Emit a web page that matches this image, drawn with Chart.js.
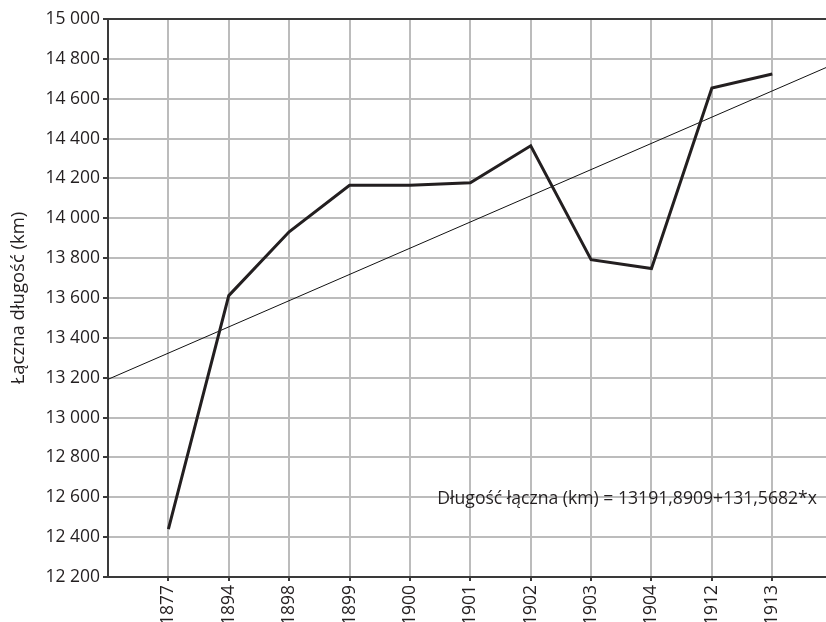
<!DOCTYPE html>
<html>
<head>
<meta charset="utf-8">
<script src="https://cdn.jsdelivr.net/npm/chart.js@4/dist/chart.umd.min.js"></script>
<style>
  html, body { margin: 0; padding: 0; background: #fff; }
  #wrap { width: 826px; height: 622px; }
</style>
</head>
<body>
<div id="wrap"><canvas id="chart"></canvas></div>
<script>
/* ---------------- data ---------------- */

const YEARS   = ['1877', '1894', '1898', '1899', '1900', '1901', '1902', '1903', '1904', '1912', '1913'];
const LENGTHS = [12440, 13612, 13932, 14166, 14166, 14178, 14364, 13792, 13748, 14654, 14724];
const Y_TICKS = [12200, 12400, 12600, 12800, 13000, 13200, 13400, 13600, 13800, 14000, 14200, 14400, 14600, 14800, 15000];

// regression from the label: 13191,8909 + 131,5682*x
const INTERCEPT = 13191.8909;
const SLOPE     = 131.5682;
const X_MAX     = 11.89;

const TEXT_COLOR = '#231f20';
const FONT = "'Open Sans', sans-serif";

/* ---------------- helpers ---------------- */

const fmt = v => {
  const s = String(v);
  return s.length > 3 ? s.slice(0, s.length - 3) + '\u00a0' + s.slice(-3) : s;
};

const seriesPoints = YEARS.map((_, i) => ({ x: i + 1, y: LENGTHS[i] }));
const trendPoints  = [0, X_MAX].map(x => ({ x, y: INTERCEPT + SLOPE * x }));

// top frame + equation label
const extras = {
  id: 'extras',
  afterDraw(chart) {
    const { ctx, chartArea: a } = chart;
    ctx.save();
    ctx.strokeStyle = '#3a3a3a';
    ctx.lineWidth = 2;
    ctx.beginPath();
    ctx.moveTo(a.left, a.top);
    ctx.lineTo(a.right, a.top);
    ctx.stroke();

    const y = chart.scales.y.getPixelForValue(12590);
    ctx.font = "17.6px " + FONT;
    ctx.fillStyle = TEXT_COLOR;
    ctx.textAlign = 'right';
    ctx.textBaseline = 'middle';
    ctx.fillText('Długość łączna (km) = 13191,8909+131,5682*x', a.right - 9, y);
    ctx.restore();
  },
};

/* ---------------- chart ---------------- */

Chart.defaults.font.family = FONT;
Chart.defaults.font.size = 17.5;
Chart.defaults.color = TEXT_COLOR;

new Chart(document.getElementById('chart'), {
  type: 'line',
  data: {
    datasets: [
      {
        data: seriesPoints,
        borderColor: TEXT_COLOR,
        borderWidth: 3,
        pointRadius: 0,
        tension: 0,
      },
      {
        data: trendPoints,
        borderColor: '#111',
        borderWidth: 1,
        pointRadius: 0,
      },
    ],
  },
  options: {
    responsive: true,
    maintainAspectRatio: false,
    animation: false,
    layout: { padding: { top: 19, right: 0, bottom: 0, left: 0 } },
    plugins: {
      legend: { display: false },
      tooltip: { enabled: false },
    },
    scales: {
      x: {
        type: 'linear',
        min: 0,
        max: X_MAX,
        afterBuildTicks: s => { s.ticks = YEARS.map((_, i) => ({ value: i + 1 })); },
        afterFit: s => { s.height = 45; },
        ticks: {
          autoSkip: false,
          maxRotation: 90,
          minRotation: 90,
          padding: 4,
          callback: v => YEARS[v - 1] || '',
        },
        grid: { color: '#bcbcbc', lineWidth: 2, tickLength: 4, tickColor: '#3a3a3a' },
        border: { color: '#3a3a3a', width: 2 },
      },
      y: {
        min: 12200,
        max: 15000,
        afterBuildTicks: s => { s.ticks = Y_TICKS.map(v => ({ value: v })); },
        afterFit: s => { s.width = 108; },
        ticks: { padding: 3, callback: v => fmt(v) },
        grid: { color: '#bcbcbc', lineWidth: 2, tickLength: 5, tickColor: '#3a3a3a' },
        border: { color: '#3a3a3a', width: 2 },
        title: {
          display: true,
          text: 'Łączna długość (km)',
          font: { size: 18.5 },
          padding: { top: 8, bottom: 0 },
        },
      },
    },
  },
  plugins: [extras],
});
</script>
</body>
</html>
